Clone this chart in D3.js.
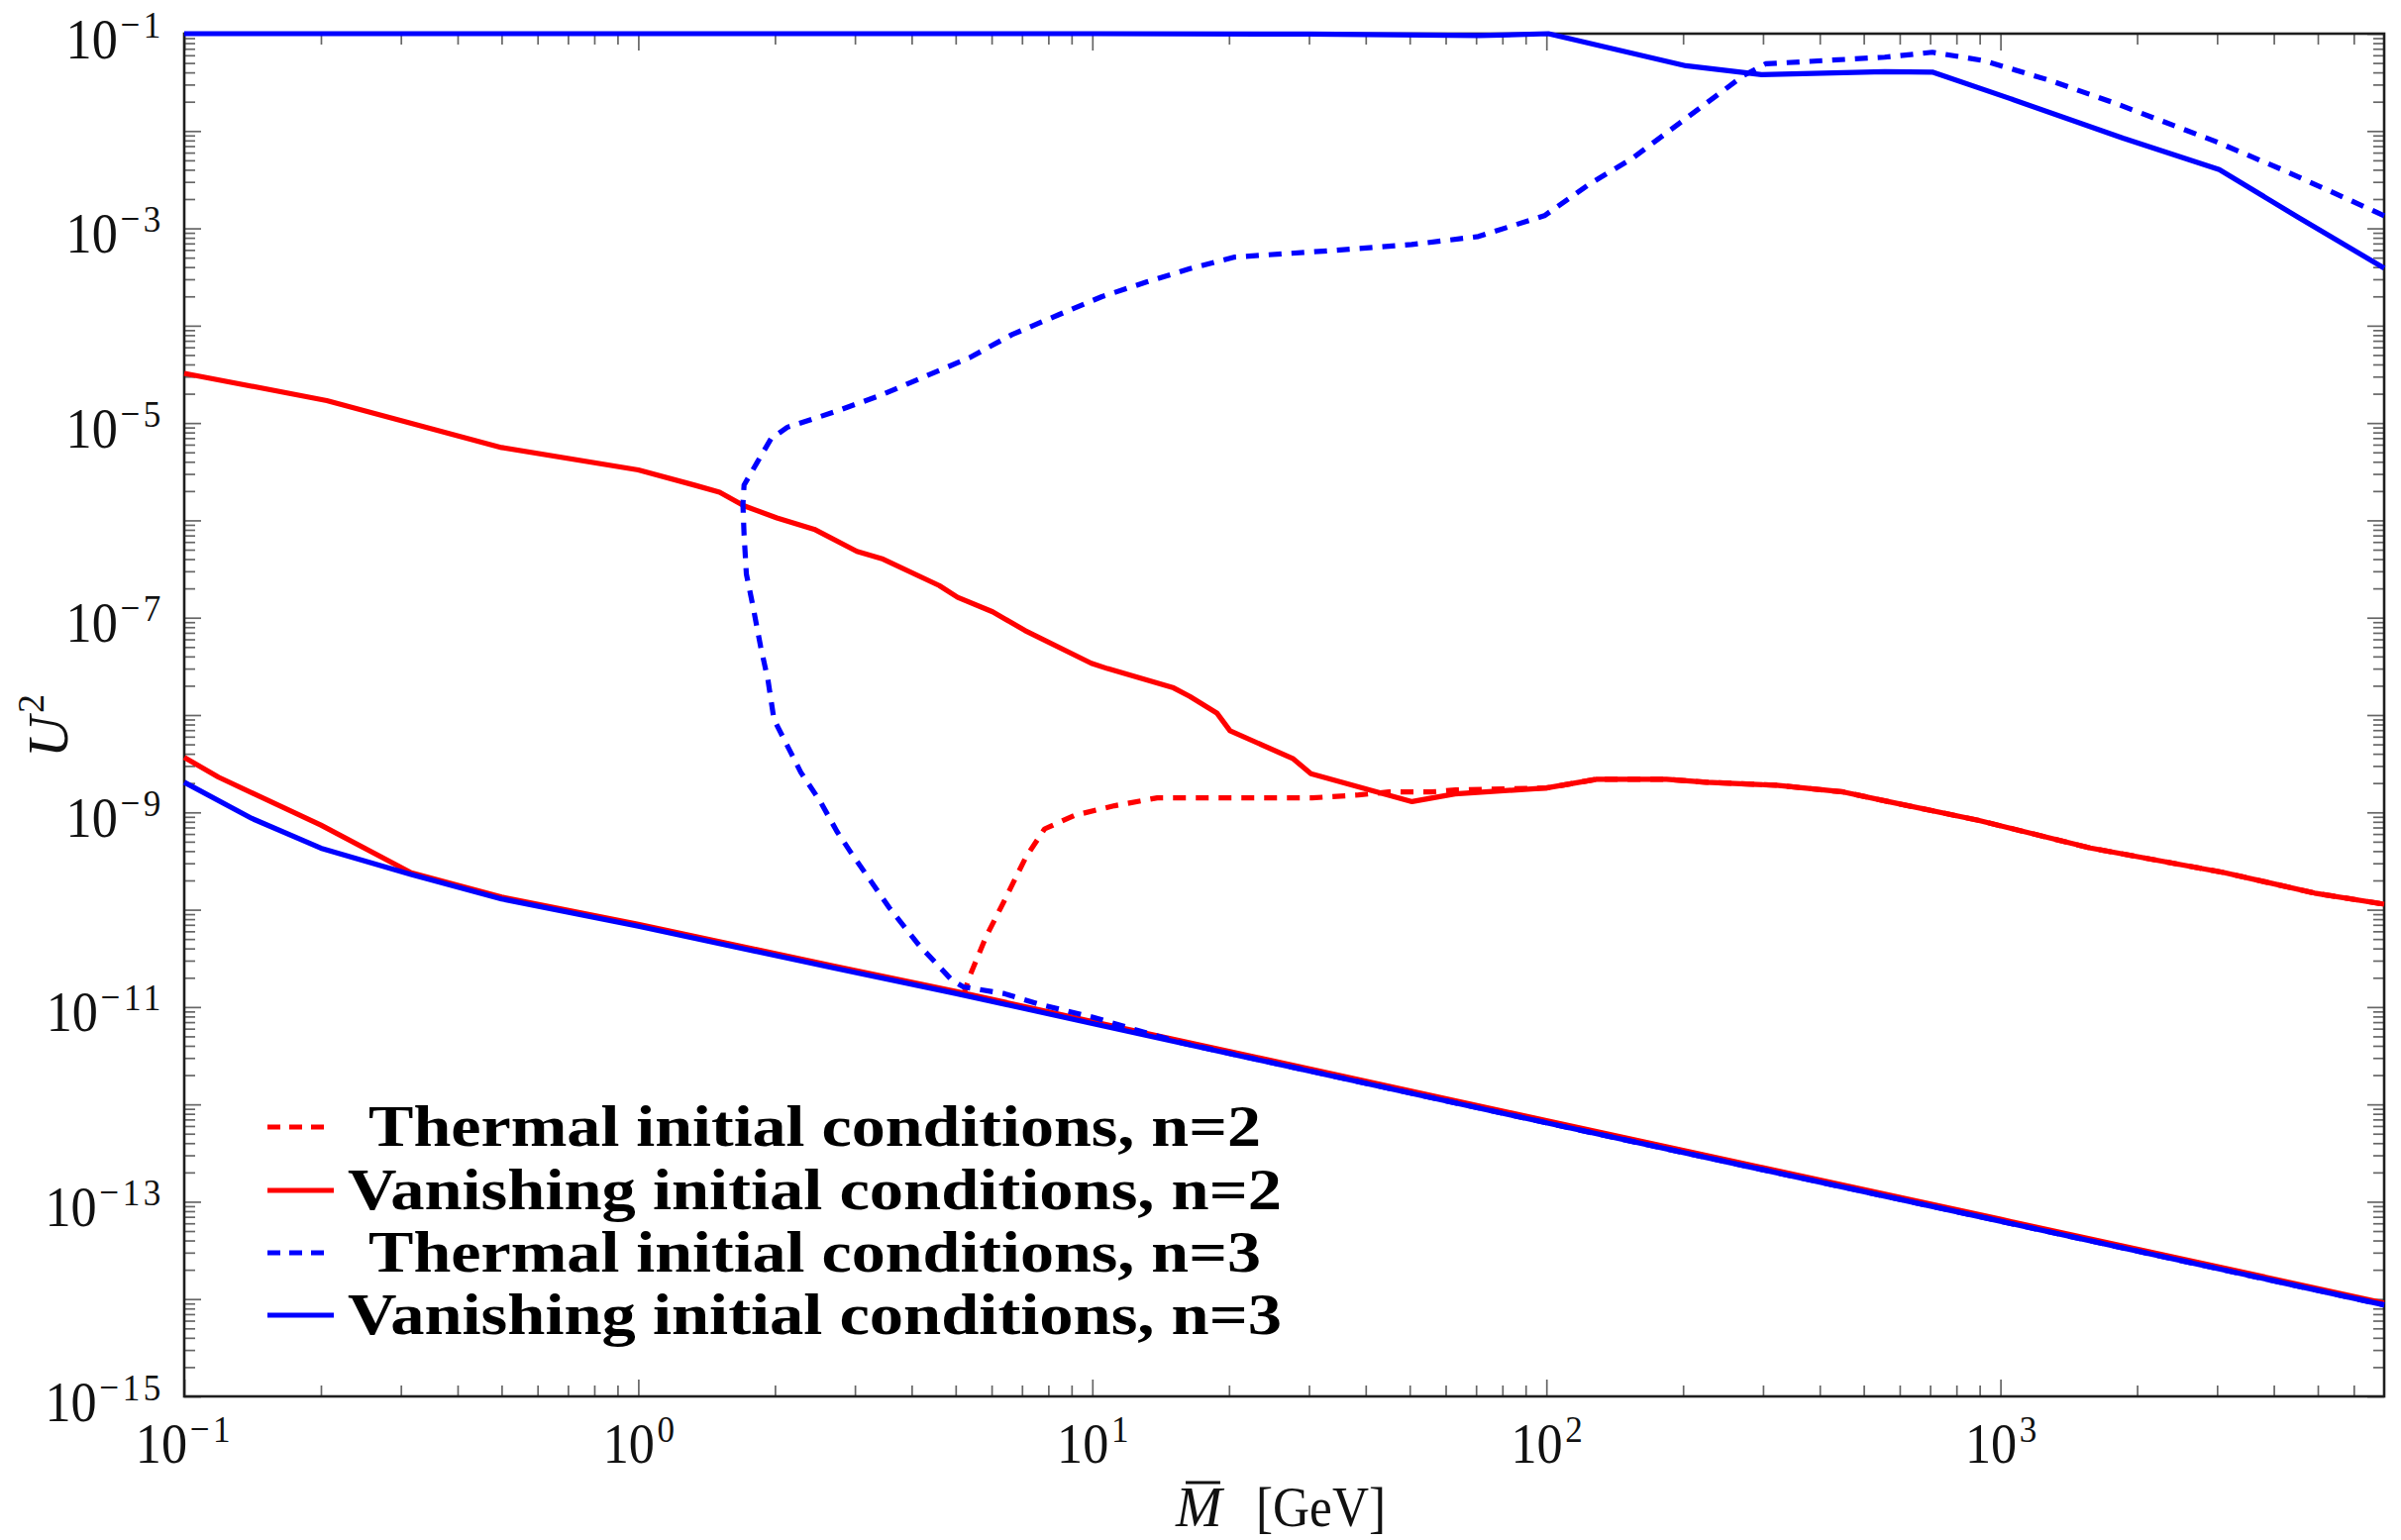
<!DOCTYPE html>
<html><head><meta charset="utf-8">
<script src="https://cdn.jsdelivr.net/npm/d3@7"></script>
<style>
html,body{margin:0;padding:0;background:#fff;}
svg{display:block;}
</style></head>
<body>
<svg id="chart" width="2424" height="1555"></svg>
<script>
// ---------------- data ----------------
// Thermal initial conditions, n=2 (red dashed)
const thermN2M  = [5.2, 5.36, 5.83, 6.35, 7.14, 7.85, 9.14, 11.2, 13.9, 18.2, 30.5, 38.6, 45, 55.8, 63.1, 100, 129, 184, 225, 321, 451, 566, 893, 1578, 3119, 4920, 7000];
const thermN2U2 = [1.32e-11, 2.04e-11, 5.25e-11, 1.15e-10, 3.47e-10, 6.76e-10, 9.33e-10, 1.17e-9, 1.41e-9, 1.41e-9, 1.41e-9, 1.51e-9, 1.62e-9, 1.62e-9, 1.70e-9, 1.78e-9, 2.19e-9, 2.19e-9, 2.04e-9, 1.9e-9, 1.62e-9, 1.29e-9, 8.3e-10, 4.3e-10, 2.4e-10, 1.48e-10, 1.14e-10];

// Vanishing initial conditions, n=2 (red solid) - upper branch
const vanN2UpM  = [0.1, 0.206, 0.5, 1.0, 1.33, 1.51, 1.71, 2.02, 2.44, 3.03, 3.46, 4.6, 5.05, 6.03, 7.1, 9.95, 10.8, 15.1, 16.4, 18.8, 20.1, 27.7, 30.3, 50.6, 62.9, 100, 129, 184, 225, 321, 451, 566, 893, 1578, 3119, 4920, 7000];
const vanN2UpU2 = [3.24e-5, 1.7e-5, 5.6e-6, 3.3e-6, 2.3e-6, 1.95e-6, 1.41e-6, 1.06e-6, 8.1e-7, 4.8e-7, 4.0e-7, 2.14e-7, 1.62e-7, 1.15e-7, 7.4e-8, 3.4e-8, 3.0e-8, 1.9e-8, 1.55e-8, 1.05e-8, 6.9e-9, 3.55e-9, 2.5e-9, 1.29e-9, 1.55e-9, 1.78e-9, 2.19e-9, 2.19e-9, 2.04e-9, 1.9e-9, 1.62e-9, 1.29e-9, 8.3e-10, 4.3e-10, 2.4e-10, 1.48e-10, 1.14e-10];
// lower branch
const vanN2LoM  = [0.1, 0.119, 0.2, 0.316, 0.5, 1, 2.7, 5, 10, 100, 1000, 7000];
const vanN2LoU2 = [3.67e-9, 2.3e-9, 7.4e-10, 2.4e-10, 1.35e-10, 7.1e-11, 2.63e-11, 1.45e-11, 7.1e-12, 6.8e-13, 6.6e-14, 9.1e-15];

// Thermal initial conditions, n=3 (blue dashed)
const thermN3M  = [7000, 4169, 2979, 1799, 1285, 920, 708, 556, 304, 272, 203, 155, 124, 99, 70.8, 50.5, 32.2, 20.6, 16.4, 13.2, 10.5, 8.41, 6.65, 5.36, 4.31, 3.40, 2.69, 2.13, 1.96, 1.83, 1.71, 1.70, 1.71, 1.73, 1.79, 1.86, 1.93, 1.99, 2.13, 2.28, 2.52, 2.74, 2.93, 3.57, 4.13, 4.91, 5.20, 6.37, 7.74, 10, 12.6, 15.8, 100, 1000, 7000];
const thermN3U2 = [1.35e-3, 4.02e-3, 7.8e-3, 0.0191, 0.0331, 0.0528, 0.0644, 0.0573, 0.049, 0.0372, 0.0135, 5.28e-3, 2.82e-3, 1.35e-3, 8.24e-4, 6.82e-4, 5.83e-4, 5.07e-4, 3.85e-4, 2.82e-4, 1.99e-4, 1.29e-4, 8.09e-5, 4.68e-5, 3.05e-5, 1.91e-5, 1.29e-5, 9.06e-6, 6.9e-6, 3.99e-6, 2.31e-6, 1.45e-6, 7.16e-7, 2.81e-7, 1.29e-7, 5.04e-8, 2.3e-8, 9.0e-9, 4.83e-9, 2.58e-9, 1.28e-9, 6.34e-10, 3.96e-10, 1.05e-10, 4.45e-11, 1.88e-11, 1.61e-11, 1.38e-11, 1.05e-11, 7.9e-12, 5.75e-12, 4.27e-12, 6.46e-13, 6.3e-14, 8.7e-15];

// Vanishing initial conditions, n=3 (blue solid) - upper branch
const vanN3UpM  = [0.1, 1, 10, 30, 71, 101, 203, 298, 556, 708, 1052, 1862, 3034, 4539, 7000];
const vanN3UpU2 = [0.1, 0.1, 0.1, 0.099, 0.0955, 0.1, 0.0468, 0.038, 0.0407, 0.0403, 0.0215, 0.00843, 0.00402, 0.00129, 0.00039];
// lower branch
const vanN3LoM  = [0.1, 0.141, 0.2, 0.316, 0.5, 1, 2.7, 5, 10, 100, 1000, 7000];
const vanN3LoU2 = [2.04e-9, 8.65e-10, 4.29e-10, 2.30e-10, 1.29e-10, 6.76e-11, 2.51e-11, 1.38e-11, 6.76e-12, 6.46e-13, 6.3e-14, 8.7e-15];

// axes ticks / labels
const xMajor = [0.1, 1, 10, 100, 1000];
const xExpLabels = ["\u22121", "0", "1", "2", "3"];
const yMajorExp = [-15,-14,-13,-12,-11,-10,-9,-8,-7,-6,-5,-4,-3,-2,-1];
const yLabeledExp = [-15,-13,-11,-9,-7,-5,-3,-1];
const minorMult = [2,3,4,5,6,7,8,9];
const legendLabels = ["Thermal initial conditions, n=2", "Vanishing initial conditions, n=2",
                      "Thermal initial conditions, n=3", "Vanishing initial conditions, n=3"];
const xTitle = "[GeV]";
const yTitle = "U";

// ---------------- layout ----------------
const L = 186, R = 2407, T = 34, B = 1410;
const RED = "#ff0000", BLUE = "#0000ff";
const svg = d3.select("#chart");
svg.append("rect").attr("width",2424).attr("height",1555).attr("fill","#fff");

const x = d3.scaleLog().domain([0.1, 7000]).range([L, R]);
const y = d3.scaleLog().domain([1e-15, 1e-1]).range([B, T]);

const yMajor = yMajorExp.map(e => Math.pow(10, e));
const xMinor = [];
[-1,0,1,2,3].forEach(e => minorMult.forEach(m => { const v = m*Math.pow(10,e); if (v < 7000) xMinor.push(v); }));
const yMinor = [];
yMajorExp.forEach(e => { if (e < -1) minorMult.forEach(m => yMinor.push(m*Math.pow(10,e))); });

const tickCol = "#666", tickW = 1.7;
const MAJ = 17, MIN = 11;
function styleTicks(s){
  s.select(".domain").remove();
  s.selectAll(".tick line").attr("stroke", tickCol).attr("stroke-width", tickW);
  s.selectAll(".tick text").text(null);
}
const axG = svg.append("g");
// minor ticks
axG.append("g").attr("transform",`translate(0,${B})`).call(d3.axisBottom(x).tickValues(xMinor).tickSizeInner(-MIN).tickSizeOuter(0).tickFormat("")).call(styleTicks);
axG.append("g").attr("transform",`translate(0,${T})`).call(d3.axisTop(x).tickValues(xMinor).tickSizeInner(-MIN).tickSizeOuter(0).tickFormat("")).call(styleTicks);
axG.append("g").attr("transform",`translate(${L},0)`).call(d3.axisLeft(y).tickValues(yMinor).tickSizeInner(-MIN).tickSizeOuter(0).tickFormat("")).call(styleTicks);
axG.append("g").attr("transform",`translate(${R},0)`).call(d3.axisRight(y).tickValues(yMinor).tickSizeInner(-MIN).tickSizeOuter(0).tickFormat("")).call(styleTicks);
// major ticks
const xb = axG.append("g").attr("transform",`translate(0,${B})`).call(d3.axisBottom(x).tickValues(xMajor).tickSizeInner(-MAJ).tickSizeOuter(0)).call(styleTicks);
axG.append("g").attr("transform",`translate(0,${T})`).call(d3.axisTop(x).tickValues(xMajor).tickSizeInner(-MAJ).tickSizeOuter(0).tickFormat("")).call(styleTicks);
const yl = axG.append("g").attr("transform",`translate(${L},0)`).call(d3.axisLeft(y).tickValues(yMajor).tickSizeInner(-MAJ).tickSizeOuter(0)).call(styleTicks);
axG.append("g").attr("transform",`translate(${R},0)`).call(d3.axisRight(y).tickValues(yMajor).tickSizeInner(-MAJ).tickSizeOuter(0).tickFormat("")).call(styleTicks);

const SERIF = "'Liberation Serif','Times New Roman',serif";
const SX = 0.9, BIG = 58, SUP = 39;
// x labels
xb.selectAll(".tick text").each(function(d){
  const t = d3.select(this).attr("dy", null).attr("y", 67).attr("x", 0)
    .attr("transform", `scale(${SX},1)`).attr("text-anchor","middle")
    .attr("font-family", SERIF).attr("fill","#111");
  t.append("tspan").attr("font-size", BIG).text("10");
  const lab = xExpLabels[xMajor.indexOf(d)];
  t.append("tspan").attr("font-size", SUP).attr("dy", -21).attr("dx", 3)
    .attr("letter-spacing", lab.length > 1 ? 4 : 0).text(lab);
});
// y labels
yl.selectAll(".tick text").each(function(d){
  const e = Math.round(Math.log10(d));
  const t = d3.select(this).attr("dy", null);
  if (yLabeledExp.indexOf(e) < 0) return;
  t.attr("y", 24).attr("x", -20/SX).attr("transform", `scale(${SX},1)`).attr("text-anchor","end")
    .attr("font-family", SERIF).attr("fill","#111");
  t.append("tspan").attr("font-size", BIG).text("10");
  t.append("tspan").attr("font-size", SUP).attr("dy", -21).attr("dx", 3)
    .attr("letter-spacing", 4).text("\u2212" + Math.abs(e));
});

// frame
svg.append("rect").attr("x", L).attr("y", T).attr("width", R-L).attr("height", B-T)
  .attr("fill","none").attr("stroke","#1e1e1e").attr("stroke-width",2.6);

// ---------------- curves ----------------
const line = d3.line().x(d => x(d[0])).y(d => y(d[1]));
const SW = 5.2, DASH = "13,10";
const curves = [
  {M: thermN2M, U: thermN2U2, c: RED, dash: true},
  {M: vanN2UpM, U: vanN2UpU2, c: RED, dash: false},
  {M: vanN2LoM, U: vanN2LoU2, c: RED, dash: false},
  {M: thermN3M, U: thermN3U2, c: BLUE, dash: true},
  {M: vanN3UpM, U: vanN3UpU2, c: BLUE, dash: false},
  {M: vanN3LoM, U: vanN3LoU2, c: BLUE, dash: false}
];
const cg = svg.append("g");
curves.forEach(cv => {
  cg.append("path").datum(d3.zip(cv.M, cv.U)).attr("d", line)
    .attr("fill","none").attr("stroke", cv.c).attr("stroke-width", SW)
    .attr("stroke-linejoin","round")
    .attr("stroke-dasharray", cv.dash ? DASH : null);
});

// ---------------- legend ----------------
const legRows = [1138, 1202, 1265, 1328];
const legStyle = [{c:RED,d:true},{c:RED,d:false},{c:BLUE,d:true},{c:BLUE,d:false}];
const legText = [{x:372,len:901},{x:351,len:943},{x:372,len:901},{x:351,len:943}];
const lg = svg.append("g");
legendLabels.forEach((lab, i) => {
  const yy = legRows[i];
  lg.append("line").attr("x1",270).attr("x2", legStyle[i].d ? 330 : 337).attr("y1",yy).attr("y2",yy)
    .attr("stroke", legStyle[i].c).attr("stroke-width", 5.2)
    .attr("stroke-dasharray", legStyle[i].d ? "13,9" : null);
  lg.append("text").attr("x", legText[i].x).attr("y", yy + 19)
    .attr("font-family", SERIF).attr("font-weight","bold").attr("font-size", 60)
    .attr("textLength", legText[i].len).attr("lengthAdjust","spacingAndGlyphs")
    .attr("fill","#000").text(lab);
});

// ---------------- axis titles ----------------
svg.append("text").attr("x", 1187).attr("y", 1541).attr("font-family", SERIF)
  .attr("font-style","italic").attr("font-size", 56).attr("fill","#111").text("M");
svg.append("line").attr("x1",1197).attr("x2",1232).attr("y1",1497).attr("y2",1497)
  .attr("stroke","#111").attr("stroke-width",2.8);
svg.append("text").attr("x", 1268).attr("y", 1541).attr("font-family", SERIF)
  .attr("font-size", 56).attr("fill","#111").attr("textLength",131).attr("lengthAdjust","spacingAndGlyphs").text(xTitle);

const yt = svg.append("text").attr("transform","translate(68,733) rotate(-90)")
  .attr("text-anchor","middle").attr("font-family", SERIF).attr("fill","#111");
yt.append("tspan").attr("font-style","italic").attr("font-size", 58).text(yTitle);
yt.append("tspan").attr("font-size", 38).attr("dy", -24).attr("dx", 3).text("2");
</script>
</body></html>
